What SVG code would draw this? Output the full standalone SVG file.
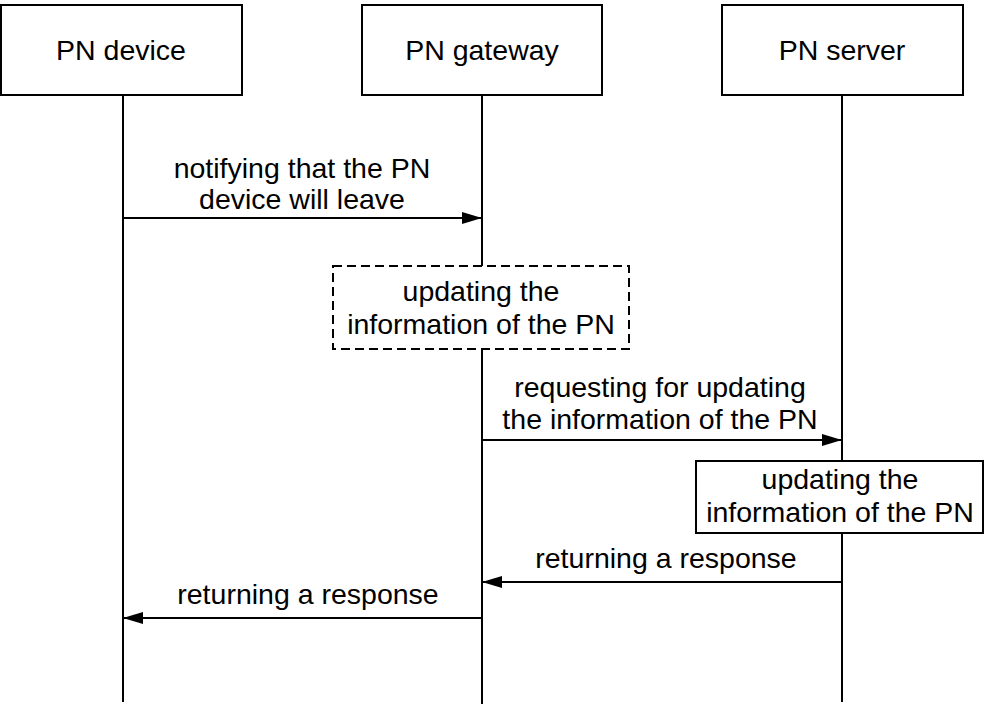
<svg xmlns="http://www.w3.org/2000/svg" width="984" height="707" viewBox="0 0 984 707">
<defs>
<style>
.box{fill:#fff;stroke:#000;stroke-width:2}
.dash{fill:#fff;stroke:#000;stroke-width:2;stroke-dasharray:9 5}
.life{stroke:#000;stroke-width:2;fill:none}
.msg{stroke:#000;stroke-width:2;fill:none}
text{font-family:"Liberation Sans",Arial,sans-serif;font-size:28.5px;fill:#000;text-anchor:middle}
</style>
<marker id="ah" markerWidth="20" markerHeight="12" refX="20" refY="6" orient="auto" markerUnits="userSpaceOnUse">
<path d="M0,0 L20,6 L0,12 Z" fill="#000"/>
</marker>
</defs>
<rect width="984" height="707" fill="#fff"/>
<g id="lifelines">
<line class="life" x1="123" y1="95" x2="123" y2="702"/>
<line class="life" x1="482" y1="95" x2="482" y2="704"/>
<line class="life" x1="842" y1="95" x2="842" y2="702"/>
</g>
<g id="connectors">
<line class="msg" x1="123" y1="218" x2="482" y2="218" marker-end="url(#ah)"/>
<line class="msg" x1="482" y1="440" x2="842" y2="440" marker-end="url(#ah)"/>
<line class="msg" x1="842" y1="582" x2="482" y2="582" marker-end="url(#ah)"/>
<line class="msg" x1="482" y1="618" x2="123" y2="618" marker-end="url(#ah)"/>
<text x="302" y="178">notifying that the PN</text>
<text x="302" y="209">device will leave</text>
<text x="660" y="397">requesting for updating</text>
<text x="660" y="429">the information of the PN</text>
<text x="666" y="568">returning a response</text>
<text x="308" y="604">returning a response</text>
</g>
<g id="pn-device">
<rect class="box" x="1" y="5" width="241" height="90"/>
<text x="121" y="60">PN device</text>
</g>
<g id="pn-gateway">
<rect class="box" x="362" y="5" width="240" height="90"/>
<text x="482" y="60">PN gateway</text>
</g>
<g id="pn-server">
<rect class="box" x="722" y="5" width="241" height="90"/>
<text x="842" y="60">PN server</text>
</g>
<g id="gateway-update">
<rect class="dash" x="333" y="266" width="296" height="83"/>
<text x="481" y="301">updating the</text>
<text x="481" y="334">information of the PN</text>
</g>
<g id="server-update">
<rect class="box" x="696" y="461" width="287" height="72"/>
<text x="840" y="489">updating the</text>
<text x="840" y="522">information of the PN</text>
</g>
</svg>
